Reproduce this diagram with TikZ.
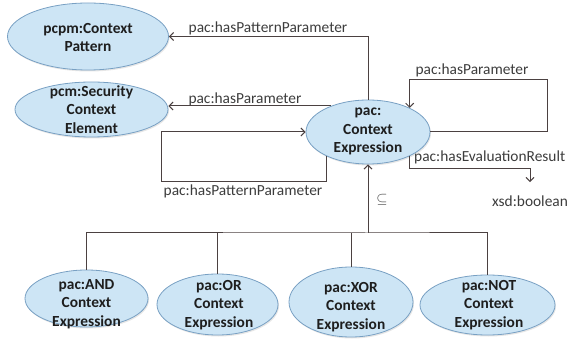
\documentclass[tikz,border=0pt]{standalone}
\usepackage{fontspec}
\setmainfont{Carlito}
\usetikzlibrary{shapes.geometric,arrows.meta,shadows}

\definecolor{ctxfill}{RGB}{205,229,245}
\definecolor{ctxedge}{RGB}{120,160,195}
\definecolor{wire}{RGB}{75,65,65}
\definecolor{lbltext}{RGB}{60,60,60}
\newcommand\ctxsize{\fontsize{15.4}{18.5}\selectfont}

\tikzset{
  ctx/.style={ellipse, draw=ctxedge, fill=ctxfill, line width=0.8pt, inner sep=0pt,
    drop shadow={opacity=0.2, shadow xshift=1pt, shadow yshift=-1.5pt}},
  ctxtext/.style={align=center, font=\ctxsize\bfseries, text={rgb,255:red,30;green,30;blue,30}},
  lbl/.style={font=\ctxsize, text=lbltext, inner sep=0pt},
  wireline/.style={draw=wire, line width=1pt, >={Straight Barb[length=4pt,width=8pt]}}
}

\begin{document}
\begin{tikzpicture}[x=1pt, y=-1pt]
    \useasboundingbox (0,0) rectangle (568,339);
    \node[ctx, minimum width=161pt, minimum height=67pt] (cp) at (88,36.5) {};
    \node[ctxtext] (cp-t) at (88,37.5) {pcpm:Context\\Pattern};
    \node[ctx, minimum width=153pt, minimum height=55pt] (pcm) at (91.5,109.5) {};
    \node[ctxtext] (pcm-t) at (91.5,109.5) {pcm:Security\\Context\\Element};
    \node[ctx, minimum width=124pt, minimum height=64pt] (ce) at (368,132) {};
    \node[ctxtext] (ce-t) at (368,131.5) {pac:\\Context\\Expression};
    \node[ctx, minimum width=123pt, minimum height=57pt] (and) at (86.5,298.5) {};
    \node[ctxtext] (and-t) at (86.5,304) {pac:AND\\Context\\Expression};
    \node[ctx, minimum width=121pt, minimum height=61pt] (or) at (217.5,304.5) {};
    \node[ctxtext] (or-t) at (219,305) {pac:OR\\Context\\Expression};
    \node[ctx, minimum width=124pt, minimum height=70pt] (xor) at (351,302) {};
    \node[ctxtext] (xor-t) at (351,307) {pac:XOR\\Context\\Expression};
    \node[ctx, minimum width=135pt, minimum height=60pt] (not) at (487.5,305) {};
    \node[ctxtext] (not-t) at (489,305) {pac:NOT\\Context\\Expression};

    \node[lbl, anchor=base] (lpp) at (268,33) {pac:hasPatternParameter};
    \node[lbl, anchor=base] (lph) at (245,104) {pac:hasParameter};
    \node[lbl, anchor=base] (lpr) at (472,75) {pac:hasParameter};
    \node[lbl, anchor=base] (lpq) at (243,196) {pac:hasPatternParameter};
    \node[lbl, anchor=base west] (lev) at (414,162) {pac:hasEvaluationResult};
    \node[lbl, anchor=base] (xb) at (530,207) {xsd:boolean};
    \node[lbl] (sub) at (382,200) {$\subseteq$};

    \draw[wireline, ->] (ce.north) |- (cp.east);
    \draw[wireline, ->] (ce.145) -- (ce.145 -| pcm.east);
    \draw[wireline, ->] (ce.-150) -- ++(0,25) -- ++(-165,0) |- (ce.west);
    \draw[wireline, ->] (ce.east) -- ++(117,0) |- (ce.30 |- 0,80) -- (ce.30);
    \draw[wireline, ->] (ce.-30) |- ([yshift=28pt]xb.north) -- ([yshift=14pt]xb.north);

    \coordinate (bus) at (368,233);
    \draw[wireline, ->] (bus) -- (ce.south);
    \draw[wireline] (and.north) |- (bus) -| (not.north);
    \draw[wireline] (or.north) -- (or.north |- bus);
    \draw[wireline] (xor.north) -- (xor.north |- bus);
\end{tikzpicture}
\end{document}
